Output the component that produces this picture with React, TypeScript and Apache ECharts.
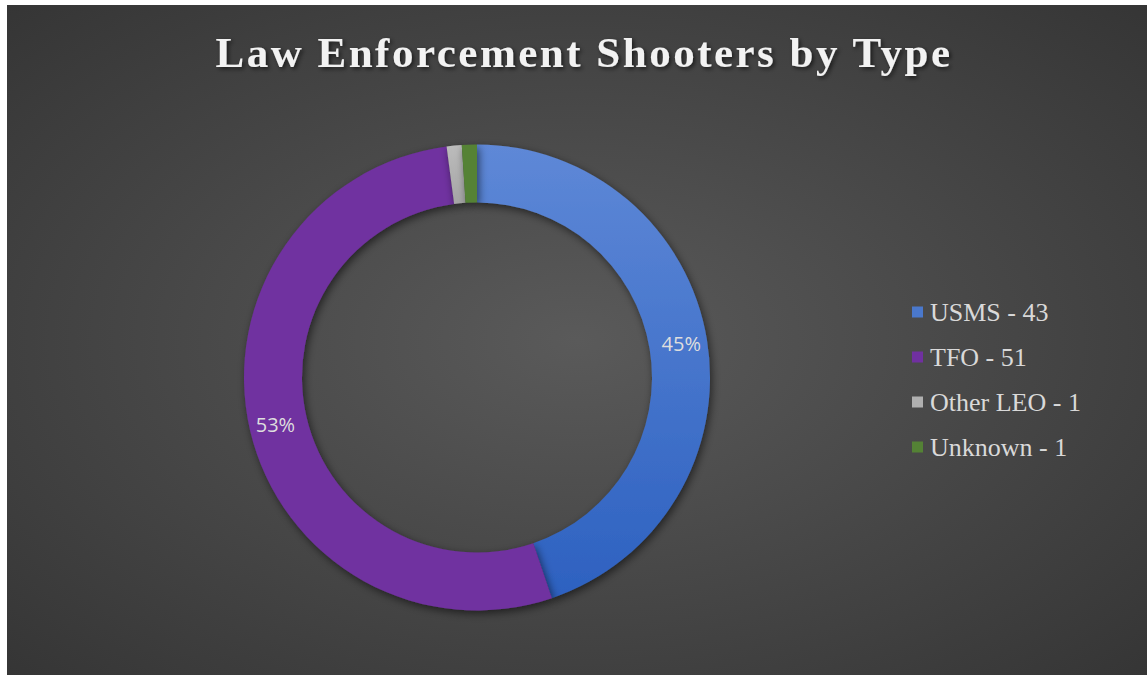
import React, { useEffect, useRef } from "react";
import * as echarts from "echarts";

const titleText = "Law Enforcement Shooters by Type";
const categories = ["USMS", "TFO", "Other LEO", "Unknown"];
const values = [43, 51, 1, 1];

export default function App() {
  const ref = useRef<HTMLDivElement>(null);
  useEffect(() => {
    if (!ref.current) return;
    const chart = echarts.init(ref.current, null, { renderer: "svg" });
    const colors = [
      new echarts.graphic.LinearGradient(0, 0, 0, 1, [
        { offset: 0, color: "#5e88d7" },
        { offset: 1, color: "#2d61c0" },
      ]),
      "#7030a0",
      new echarts.graphic.LinearGradient(0, 0, 0, 1, [
        { offset: 0, color: "#bcbcbc" },
        { offset: 1, color: "#a5a5a5" },
      ]),
      "#548235",
    ];
    const legendColors = ["#4a78cc", "#7030a0", "#b0b0b0", "#548235"];
    const total = values.reduce((a, b) => a + b, 0);
    chart.setOption({
      animation: false,
      graphic: [
        {
          type: "rect",
          z: -10,
          silent: true,
          shape: { x: 0, y: 0, width: 1140, height: 670 },
          style: {
            fill: new echarts.graphic.RadialGradient(0.5, 0.5, 1.0, [
              { offset: 0, color: "#5a5a5a" },
              { offset: 1, color: "#262626" },
            ]),
          },
        },
        {
          type: "text",
          z: 10,
          silent: true,
          x: 577,
          y: 47,
          style: {
            text: titleText,
            fontFamily: "Liberation Serif",
            fontWeight: "bold",
            fontSize: 43,
            fill: "#f2f2f2",
            textAlign: "center",
            textVerticalAlign: "middle",
            textShadowColor: "rgba(0,0,0,0.6)",
            textShadowBlur: 4,
            textShadowOffsetX: 2,
            textShadowOffsetY: 2,
          },
        },
      ],
      legend: {
        orient: "vertical",
        left: 900,
        top: 289,
        itemWidth: 11,
        itemHeight: 11,
        itemGap: 19,
        icon: "rect",
        data: categories.map((c, i) => ({
          name: c,
          itemStyle: { color: legendColors[i] },
        })),
        formatter: (name: string) => {
          const i = categories.indexOf(name);
          return name + " - " + values[i];
        },
        textStyle: {
          fontFamily: "Liberation Serif",
          fontSize: 26,
          lineHeight: 26,
          color: "#d9d9d9",
          padding: [0, 0, 0, 2],
        },
      },
      series: [
        {
          type: "pie",
          center: [470, 372.5],
          radius: [175, 233],
          startAngle: 90,
          clockwise: true,
          avoidLabelOverlap: false,
          itemStyle: {
            shadowColor: "rgba(0,0,0,0.55)",
            shadowBlur: 8,
            shadowOffsetX: 2,
            shadowOffsetY: 3,
          },
          label: {
            show: true,
            position: "inside",
            fontFamily: "Open Sans",
            fontSize: 20,
            color: "#dedede",
            formatter: (p: any) =>
              (p.value / total) * 100 >= 5
                ? Math.round((p.value / total) * 100) + "%"
                : "",
          },
          labelLine: { show: false },
          emphasis: { disabled: true },
          data: categories.map((c, i) => ({
            name: c,
            value: values[i],
            itemStyle: { color: colors[i] },
          })),
        },
      ],
    });
    const applySpacing = () => {
      const texts = ref.current?.querySelectorAll("text") || [];
      texts.forEach((t) => {
        if (t.textContent === titleText) {
          (t as SVGTextElement).style.letterSpacing = "2.5px";
        }
      });
    };
    applySpacing();
    chart.on("finished", applySpacing);
    return () => chart.dispose();
  }, []);
  return (
    <div
      ref={ref}
      style={{ position: "absolute", left: 7, top: 5, width: 1140, height: 670 }}
    />
  );
}
